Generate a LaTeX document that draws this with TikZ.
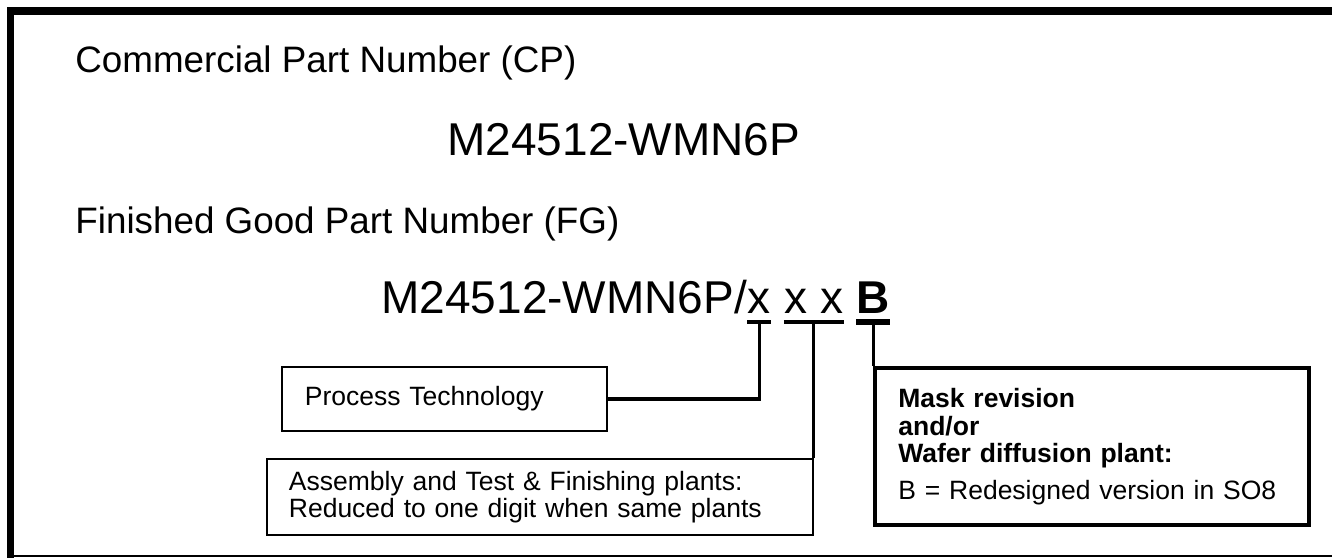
\documentclass[tikz,border=0pt]{standalone}
\usepackage{fontspec}
\setmainfont{Liberation Sans}
\usetikzlibrary{positioning}

\begin{document}
\begin{tikzpicture}[x=0.5pt, y=-0.5pt,
    heading/.style={anchor=base west, inner sep=0pt, font=\fontsize{18.4}{22}\selectfont},
    partno/.style={anchor=base west, inner sep=0pt, font=\fontsize{23}{27}\selectfont},
    infobox/.style={draw, line width=0.9pt, anchor=north west, align=left,
        inner xsep=11pt, inner ysep=0pt, font=\fontsize{13.25}{13.75}\selectfont},
    uline/.style={line width=2pt},
    link/.style={line width=1.6pt}]

\useasboundingbox (0,0) rectangle (1332,557);

% frame
\draw[line width=3.8pt] (1340,11) -- (10.5,11) -- (10.5,560);
\draw[line width=1pt] (10.5,555.5) -- (1340,555.5);

\node[heading] (cphead) at (75,72) {Commercial Part Number (CP)};
\node[partno] (cp) at (447,155) {M24512-WMN6P};
\node[heading] (fghead) at (75,233) {Finished Good Part Number (FG)};

% finished good number, split in parts
\node[partno] (fg) at (381,313) {M24512-WMN6P/};
\node[partno] (techx) at (fg.base east) {x};
\node[partno] (plantx) at ([xshift=6.4pt]techx.base east) {x x};
\node[partno, font=\fontsize{23}{27}\selectfont\bfseries] (revx) at ([xshift=6.4pt]plantx.base east) {B};

\draw[uline] ([yshift=-4.5pt]techx.base west) -- ([yshift=-4.5pt]techx.base east);
\draw[uline] ([yshift=-4.5pt]plantx.base west) -- ([yshift=-4.5pt]plantx.base east);
\draw[line width=2.6pt] ([yshift=-4.5pt]revx.base west) -- ([yshift=-4.5pt]revx.base east);

\coordinate (techu) at ([yshift=-4.5pt]techx.base);
\coordinate (plantu) at ([yshift=-4.5pt]plantx.base);
\coordinate (revu) at ([yshift=-4.5pt]revx.base);

% boxes
\node[infobox, minimum width=161.5pt, minimum height=32pt, text width=139.5pt,
    inner xsep=11.5pt] (tech) at (281,366) {Process Technology};

\node[infobox, minimum width=273pt, minimum height=38pt, text width=251pt] (plants) at (266,458)
    {Assembly and Test \& Finishing plants:\\Reduced to one digit when same plants};

\node[infobox, line width=2pt, minimum width=217pt, minimum height=78.5pt, text width=194pt,
    inner xsep=11.5pt] (rev) at (revu |- 0,366)
    {\textbf{Mask revision}\\\textbf{and/or}\\\textbf{Wafer diffusion plant:}\\[4.5pt]B = Redesigned version in SO8};

% connectors
\draw[link] (techu) |- (tech.east);
\draw[link] (plantu) -- (plantu |- plants.north);
\draw[link] (revu) -- (rev.north west);

\end{tikzpicture}
\end{document}
